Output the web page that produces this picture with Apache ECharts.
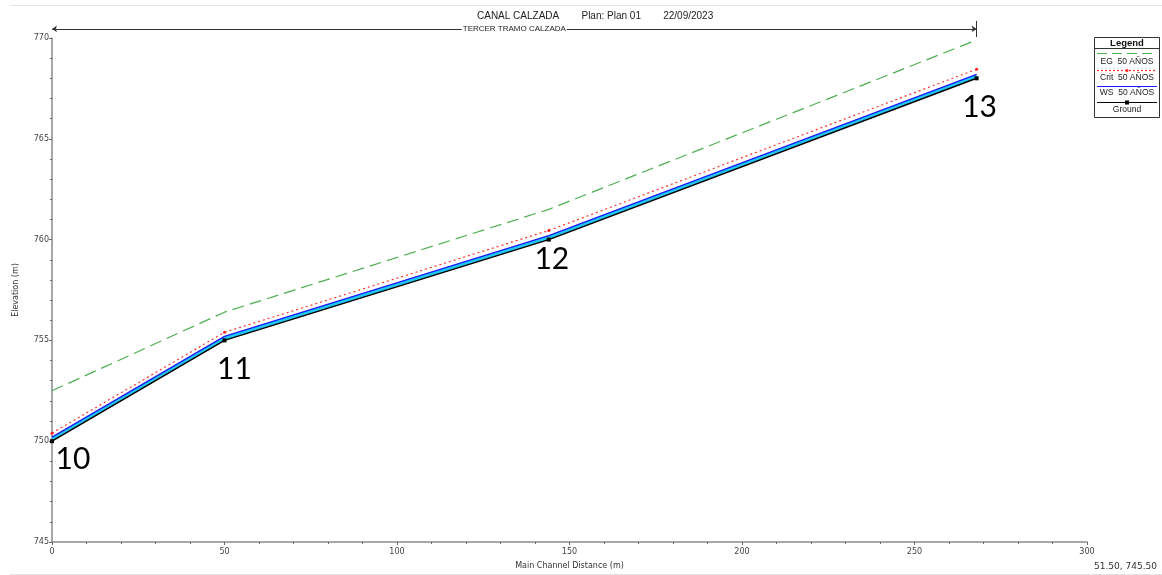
<!DOCTYPE html>
<html>
<head>
<meta charset="utf-8">
<title>CANAL CALZADA - Perfil</title>
<script src="https://cdn.jsdelivr.net/npm/echarts@6/dist/echarts.min.js"></script>
<style>
  html, body { margin: 0; padding: 0; background: #fff; }
  #chart { width: 1162px; height: 575px; }
</style>
</head>
<body>
<div id="chart"></div>
<script>
// River stations along the reach and their main channel distance (m)
const stations = ['10', '11', '12', '13'];
const distance = [0, 50, 144, 268];

// Profile elevations (m) for the 50-year event
const egElev     = [752.5, 756.4, 761.5, 769.9];   // energy grade
const critElev   = [750.4, 755.4, 760.45, 768.45]; // critical depth
const wsElev     = [750.2, 755.2, 760.2, 768.2];   // water surface
const groundElev = [750.0, 755.0, 760.0, 768.0];   // channel invert

// Axis ticks
const xTicks = { min: 0, max: 300, step: 50 };
const yTicks = { min: 745, max: 770, step: 5 };

const seriesNames = ['EG  50 AÑOS', 'Crit  50 AÑOS', 'WS  50 AÑOS', 'Ground'];
const reachName = 'TERCER TRAMO CALZADA';

// Station label shifts (px) relative to each ground point
const labelShift = [[21, 18], [10, 29], [3, 20], [3, 29]];
const REACH_Y = 770.45;

const pts = (ys) => distance.map((x, i) => [x, ys[i]]);

const chart = echarts.init(document.getElementById('chart'), null, { renderer: 'canvas' });

const axisColor = '#8a8a8a';
const tickText = { color: '#444', fontSize: 8, fontFamily: 'DejaVu Sans' };

const reachStart = distance[0];
const reachEnd = distance[distance.length - 1];

// Water body between the ground and the water surface, as one polygon
function renderWater(params, api) {
  if (params.dataIndex !== 0) return null;
  const top = distance.map((x, i) => api.coord([x, wsElev[i]]));
  const bottom = distance.map((x, i) => api.coord([x, groundElev[i]])).reverse();
  return {
    type: 'polygon',
    shape: { points: top.concat(bottom) },
    style: { fill: '#1ec8f0', stroke: 'none' },
    silent: true
  };
}

const option = {
  animation: false,
  backgroundColor: '#fff',
  title: {
    text: 'CANAL CALZADA        Plan: Plan 01        22/09/2023',
    left: 472,
    top: 6,
    textStyle: { fontSize: 10, fontWeight: 'normal', color: '#222', fontFamily: 'Liberation Sans' }
  },
  grid: { left: 52, right: 75, top: 38, bottom: 25, containLabel: false },
  xAxis: {
    type: 'value',
    min: xTicks.min, max: xTicks.max, interval: xTicks.step,
    name: 'Main Channel Distance (m)',
    nameLocation: 'middle', nameGap: 20,
    nameTextStyle: { fontSize: 8, color: '#333', fontFamily: 'DejaVu Sans' },
    axisLine: { show: true, onZero: false, lineStyle: { color: axisColor, width: 1.5 } },
    axisTick: { show: true, length: 3, lineStyle: { color: '#666' } },
    minorTick: { show: true, splitNumber: 5, length: 2, lineStyle: { color: '#666' } },
    axisLabel: Object.assign({ margin: 6 }, tickText),
    splitLine: { show: false }
  },
  yAxis: {
    type: 'value',
    min: yTicks.min, max: yTicks.max, interval: yTicks.step,
    name: 'Elevation (m)',
    nameLocation: 'middle', nameGap: 32,
    nameTextStyle: { fontSize: 8, color: '#333', fontFamily: 'DejaVu Sans' },
    axisLine: { show: true, onZero: false, lineStyle: { color: axisColor, width: 1.5 } },
    axisTick: { show: true, length: 3, lineStyle: { color: '#666' } },
    minorTick: { show: true, splitNumber: 5, length: 2, lineStyle: { color: '#666' } },
    axisLabel: Object.assign({ margin: 3 }, tickText),
    splitLine: { show: false }
  },
  series: [
    {
      type: 'custom',
      renderItem: renderWater,
      data: pts(wsElev),
      encode: { x: 0, y: 1 },
      z: 2
    },
    {
      name: seriesNames[2],
      type: 'line',
      data: pts(wsElev),
      symbol: 'none',
      lineStyle: { color: '#1a1aff', width: 1.3 },
      z: 3
    },
    {
      name: seriesNames[3],
      type: 'line',
      data: pts(groundElev),
      symbol: 'rect',
      symbolSize: 4,
      itemStyle: { color: '#000' },
      lineStyle: { color: '#000', width: 1.5 },
      z: 3,
      label: {
        show: true,
        position: 'inside',
        fontSize: 30,
        color: '#000',
        fontFamily: 'Lato',
        formatter: (p) => stations[p.dataIndex]
      },
      labelLayout: (params) => {
        const s = labelShift[params.dataIndex];
        return { x: params.rect.x + params.rect.width / 2 + s[0], y: params.rect.y + params.rect.height / 2 + s[1], align: 'center', verticalAlign: 'middle' };
      }
    },
    {
      name: seriesNames[0],
      type: 'line',
      data: pts(egElev),
      symbol: 'none',
      lineStyle: { color: '#4caf50', width: 1.2, type: [12, 6] },
      z: 4
    },
    {
      name: seriesNames[1],
      type: 'line',
      data: pts(critElev),
      symbol: 'circle',
      symbolSize: 3,
      itemStyle: { color: '#ff2020' },
      lineStyle: { color: '#ff3030', width: 1.2, type: [2, 3] },
      z: 4
    },
    {
      // reach extent bar
      type: 'lines',
      coordinateSystem: 'cartesian2d',
      clip: false,
      symbol: ['arrow', 'arrow'],
      symbolSize: 5,
      lineStyle: { color: '#333', width: 1, opacity: 1 },
      label: {
        show: true,
        position: 'middle',
        distance: -4,
        formatter: reachName,
        fontSize: 8,
        color: '#222',
        fontFamily: 'Liberation Sans',
        backgroundColor: '#fff',
        padding: [0, 1]
      },
      data: [{ coords: [[reachStart, REACH_Y], [reachEnd, REACH_Y]] }],
      z: 6
    },
    {
      // end marker of the reach
      type: 'lines',
      coordinateSystem: 'cartesian2d',
      clip: false,
      symbol: ['none', 'none'],
      lineStyle: { color: '#333', width: 1, opacity: 1 },
      data: [{ coords: [[reachEnd, REACH_Y - 0.4], [reachEnd, REACH_Y + 0.4]] }],
      z: 6
    }
  ],
  graphic: [
    // frame lines
    { type: 'line', shape: { x1: 10, y1: 5.5, x2: 1162, y2: 5.5 }, style: { stroke: '#e4e4e4', lineWidth: 1 }, silent: true },
    { type: 'line', shape: { x1: 10, y1: 574.5, x2: 1162, y2: 574.5 }, style: { stroke: '#e4e4e4', lineWidth: 1 }, silent: true },
    // cursor readout
    { type: 'text', right: 5, top: 562, style: { text: '51.50, 745.50', fontSize: 9, fill: '#333', fontFamily: 'DejaVu Sans' } },
    // legend box
    {
      type: 'group',
      left: 1092, top: 37,
      children: [
        { type: 'rect', shape: { x: 0.5, y: 0.5, width: 65, height: 80 }, style: { fill: '#fff', stroke: '#333', lineWidth: 1 } },
        { type: 'text', x: 33, y: 6, style: { text: 'Legend', fontSize: 9.5, fontWeight: 'bold', fill: '#111', align: 'center', verticalAlign: 'middle', fontFamily: 'Liberation Sans' } },
        { type: 'line', shape: { x1: 0.5, y1: 11.5, x2: 65.5, y2: 11.5 }, style: { stroke: '#333', lineWidth: 1 } },
        // EG
        { type: 'line', shape: { x1: 3, y1: 16.5, x2: 63, y2: 16.5 }, style: { stroke: '#4caf50', lineWidth: 1.2, lineDash: [10, 5] } },
        { type: 'text', x: 33, y: 25, style: { text: seriesNames[0], fontSize: 8.5, fill: '#222', align: 'center', verticalAlign: 'middle', fontFamily: 'Liberation Sans' } },
        // Crit
        { type: 'line', shape: { x1: 3, y1: 33.5, x2: 63, y2: 33.5 }, style: { stroke: '#ff3030', lineWidth: 1.2, lineDash: [2, 2] } },
        { type: 'circle', shape: { cx: 33, cy: 33.5, r: 1.5 }, style: { fill: '#ff2020' } },
        { type: 'text', x: 33, y: 40.5, style: { text: seriesNames[1], fontSize: 8.5, fill: '#222', align: 'center', verticalAlign: 'middle', fontFamily: 'Liberation Sans' } },
        // WS
        { type: 'line', shape: { x1: 3, y1: 49.5, x2: 63, y2: 49.5 }, style: { stroke: '#1a1aff', lineWidth: 1.2 } },
        { type: 'text', x: 33, y: 56, style: { text: seriesNames[2], fontSize: 8.5, fill: '#222', align: 'center', verticalAlign: 'middle', fontFamily: 'Liberation Sans' } },
        // Ground
        { type: 'line', shape: { x1: 3, y1: 65.5, x2: 63, y2: 65.5 }, style: { stroke: '#000', lineWidth: 1.2 } },
        { type: 'rect', shape: { x: 31, y: 63.5, width: 4, height: 4 }, style: { fill: '#000' } },
        { type: 'text', x: 33, y: 73, style: { text: seriesNames[3], fontSize: 8.5, fill: '#222', align: 'center', verticalAlign: 'middle', fontFamily: 'Liberation Sans' } }
      ]
    }
  ]
};

chart.setOption(option);
</script>
</body>
</html>
